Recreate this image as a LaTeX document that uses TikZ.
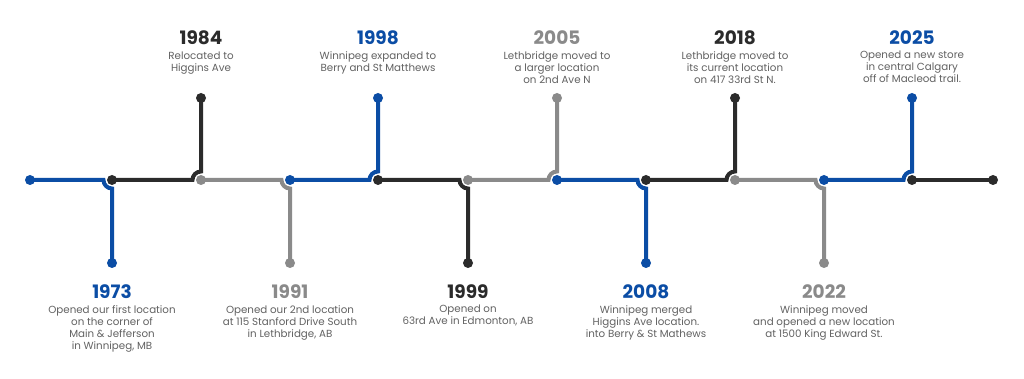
\documentclass[tikz,border=0pt]{standalone}
\usepackage{fontspec}
\setmainfont{Poppins}
\usetikzlibrary{positioning}
\definecolor{tlblue}{RGB}{11,77,165}
\definecolor{tldark}{RGB}{43,43,43}
\definecolor{tlgray}{RGB}{138,138,138}
\definecolor{tltext}{RGB}{98,98,98}
\begin{document}
\begin{tikzpicture}[x=1pt,y=1pt,
    seg/.style={line width=4pt},
    year/.style={inner sep=0pt, font=\bfseries\fontsize{18.5}{18.5}\selectfont},
    desc/.style={inner sep=0pt, align=center, text=tltext, font=\fontsize{10.3}{12}\selectfont}]
    \fill[white] (0,0) rectangle (1024,379);
    \useasboundingbox (0,0) rectangle (1024,379);
    \coordinate (j0) at (30,199);
    \coordinate (j1) at (112,199);
    \coordinate (j2) at (201,199);
    \coordinate (j3) at (290,199);
    \coordinate (j4) at (378,199);
    \coordinate (j5) at (468,199);
    \coordinate (j6) at (557,199);
    \coordinate (j7) at (646,199);
    \coordinate (j8) at (735,199);
    \coordinate (j9) at (824,199);
    \coordinate (j10) at (912,199);
    \coordinate (j11) at (993,199);
    \coordinate (e1) at (112,116);
    \coordinate (e2) at (201,281);
    \coordinate (e3) at (290,116);
    \coordinate (e4) at (378,281);
    \coordinate (e5) at (468,116);
    \coordinate (e6) at (557,281);
    \coordinate (e7) at (646,116);
    \coordinate (e8) at (735,281);
    \coordinate (e9) at (824,116);
    \coordinate (e10) at (912,281);
    \draw[seg, tlblue] (j0) -- ([xshift=-8.5pt]j1) arc[start angle=180, end angle=270, radius=8.5pt] -- (e1);
    \draw[seg, tldark] (j1) -- ([xshift=-8.5pt]j2) arc[start angle=180, end angle=90, radius=8.5pt] -- (e2);
    \draw[seg, tlgray] (j2) -- ([xshift=-8.5pt]j3) arc[start angle=180, end angle=270, radius=8.5pt] -- (e3);
    \draw[seg, tlblue] (j3) -- ([xshift=-8.5pt]j4) arc[start angle=180, end angle=90, radius=8.5pt] -- (e4);
    \draw[seg, tldark] (j4) -- ([xshift=-8.5pt]j5) arc[start angle=180, end angle=270, radius=8.5pt] -- (e5);
    \draw[seg, tlgray] (j5) -- ([xshift=-8.5pt]j6) arc[start angle=180, end angle=90, radius=8.5pt] -- (e6);
    \draw[seg, tlblue] (j6) -- ([xshift=-8.5pt]j7) arc[start angle=180, end angle=270, radius=8.5pt] -- (e7);
    \draw[seg, tldark] (j7) -- ([xshift=-8.5pt]j8) arc[start angle=180, end angle=90, radius=8.5pt] -- (e8);
    \draw[seg, tlgray] (j8) -- ([xshift=-8.5pt]j9) arc[start angle=180, end angle=270, radius=8.5pt] -- (e9);
    \draw[seg, tlblue] (j9) -- ([xshift=-8.5pt]j10) arc[start angle=180, end angle=90, radius=8.5pt] -- (e10);
    \draw[seg, tldark] (j10) -- (j11);
    \fill[tlblue] (j0) circle (5pt);
    \fill[tldark] (j1) circle (5pt);
    \fill[tlgray] (j2) circle (5pt);
    \fill[tlblue] (j3) circle (5pt);
    \fill[tldark] (j4) circle (5pt);
    \fill[tlgray] (j5) circle (5pt);
    \fill[tlblue] (j6) circle (5pt);
    \fill[tldark] (j7) circle (5pt);
    \fill[tlgray] (j8) circle (5pt);
    \fill[tlblue] (j9) circle (5pt);
    \fill[tldark] (j10) circle (5pt);
    \fill[tldark] (j11) circle (5pt);
    \fill[tlblue] (e1) circle (5pt);
    \fill[tldark] (e2) circle (5pt);
    \fill[tlgray] (e3) circle (5pt);
    \fill[tlblue] (e4) circle (5pt);
    \fill[tldark] (e5) circle (5pt);
    \fill[tlgray] (e6) circle (5pt);
    \fill[tlblue] (e7) circle (5pt);
    \fill[tldark] (e8) circle (5pt);
    \fill[tlgray] (e9) circle (5pt);
    \fill[tlblue] (e10) circle (5pt);
    \node[year, text=tlblue] (y1973) at (112,87) {1973};
    \node[desc, below=6pt of y1973] (d1973) {Opened our first location\\on the corner of\\Main \& Jefferson\\in Winnipeg, MB};
    \node[year, text=tldark] (y1984) at (201,341) {1984};
    \node[desc, below=6pt of y1984] (d1984) {Relocated to\\Higgins Ave};
    \node[year, text=tlgray] (y1991) at (290,87) {1991};
    \node[desc, below=6pt of y1991] (d1991) {Opened our 2nd location\\at 115 Stanford Drive South\\in Lethbridge, AB};
    \node[year, text=tlblue] (y1998) at (378,341) {1998};
    \node[desc, below=6pt of y1998] (d1998) {Winnipeg expanded to\\Berry and St Matthews};
    \node[year, text=tldark] (y1999) at (468,87) {1999};
    \node[desc, below=6pt of y1999] (d1999) {Opened on\\63rd Ave in Edmonton, AB};
    \node[year, text=tlgray] (y2005) at (557,341) {2005};
    \node[desc, below=6pt of y2005] (d2005) {Lethbridge moved to\\a larger location\\on 2nd Ave N};
    \node[year, text=tlblue] (y2008) at (646,87) {2008};
    \node[desc, below=6pt of y2008] (d2008) {Winnipeg merged\\Higgins Ave location.\\into Berry \& St Mathews};
    \node[year, text=tldark] (y2018) at (735,341) {2018};
    \node[desc, below=6pt of y2018] (d2018) {Lethbridge moved to\\its current location\\on 417 33rd St N.};
    \node[year, text=tlgray] (y2022) at (824,87) {2022};
    \node[desc, below=6pt of y2022] (d2022) {Winnipeg moved\\and opened a new location\\at 1500 King Edward St.};
    \node[year, text=tlblue] (y2025) at (912,341) {2025};
    \node[desc, below=6pt of y2025] (d2025) {Opened a new store\\in central Calgary\\off of Macleod trail.};
\end{tikzpicture}
\end{document}
